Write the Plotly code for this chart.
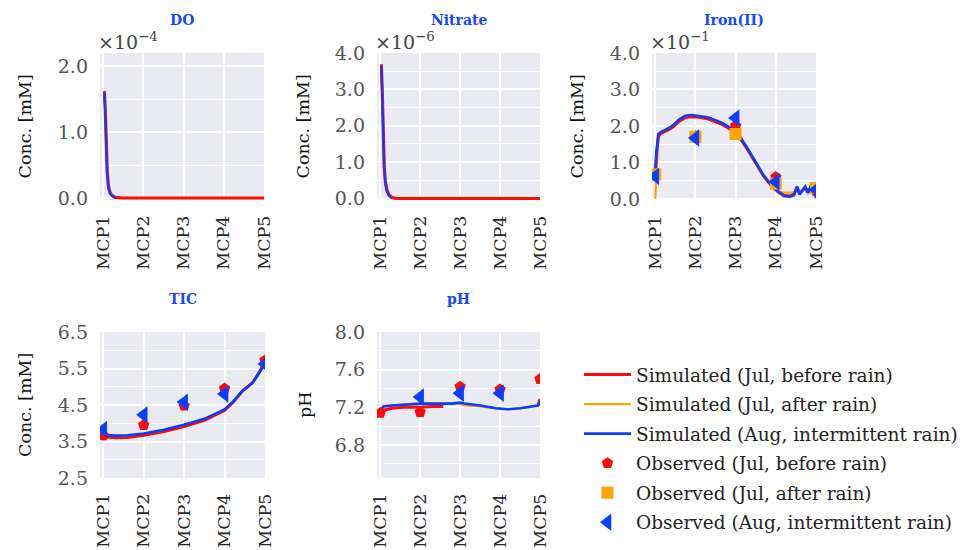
import plotly.graph_objects as go

W, H = 973, 550

# ---- data ---------------------------------------------------------------
stations = ["MCP1", "MCP2", "MCP3", "MCP4", "MCP5"]
station_pos = [0, 1, 2, 3, 4]

# DO, in units of 1e-4 mM
do_u = [0, 0.03, 0.05, 0.075, 0.1, 0.13, 0.17, 0.22, 0.3, 0.5, 1, 2, 3, 4]
do_sim_jul_before = [1.6, 1.6, 1.35, 0.75, 0.4, 0.18, 0.08, 0.04, 0.01, 0, 0, 0, 0, 0]
do_u_aug = [0, 0.03, 0.05, 0.075, 0.1, 0.13, 0.17, 0.22, 0.3]
do_sim_aug = [1.58, 1.58, 1.3, 0.7, 0.36, 0.16, 0.07, 0.03, 0.0]

# Nitrate, in units of 1e-6 mM
no3_u = [0, 0.03, 0.05, 0.07, 0.1, 0.13, 0.17, 0.22, 0.3, 0.4, 1, 2, 3, 4]
no3_sim_jul_before = [3.65, 3.65, 3.0, 1.8, 0.9, 0.45, 0.22, 0.1, 0.03, 0, 0, 0, 0, 0]
no3_u_aug = [0, 0.03, 0.05, 0.07, 0.1, 0.13, 0.17, 0.22, 0.3]
no3_sim_aug = [3.62, 3.62, 2.9, 1.7, 0.85, 0.4, 0.2, 0.08, 0.0]

# Iron(II), in units of 1e-1 mM
fe_u = [0, 0.03, 0.08, 0.15, 0.3, 0.45, 0.6, 0.75, 0.9, 1.1, 1.3, 1.5, 1.7, 1.9,
        2.1, 2.3, 2.5, 2.7, 2.9, 3.05, 3.2, 3.35, 3.45, 3.53, 3.59, 3.66, 3.73,
        3.8, 3.87, 3.94, 4.0]
fe_sim_jul_before = [0.65, 1.2, 1.72, 1.8, 1.88, 1.98, 2.13, 2.23, 2.25, 2.24, 2.2,
                     2.12, 2.02, 1.89, 1.68, 1.35, 0.97, 0.62, 0.35, 0.2, 0.1, 0.08,
                     0.12, 0.33, 0.14, 0.22, 0.32, 0.18, 0.33, 0.28, 0.15]
fe_sim_jul_after = [0.0, 0.8, 1.7, 1.82, 1.9, 2.0, 2.15, 2.26, 2.28, 2.27, 2.22,
                    2.14, 2.04, 1.91, 1.7, 1.36, 0.98, 0.63, 0.36, 0.22, 0.17, 0.16,
                    0.17, 0.3, 0.2, 0.22, 0.3, 0.22, 0.3, 0.28, 0.25]
fe_sim_aug = [0.62, 1.3, 1.78, 1.84, 1.92, 2.02, 2.18, 2.28, 2.3, 2.28, 2.24, 2.16,
              2.06, 1.93, 1.72, 1.38, 1.0, 0.64, 0.36, 0.2, 0.08, 0.06, 0.1, 0.34,
              0.12, 0.22, 0.33, 0.16, 0.34, 0.3, 0.02]
fe_obs_jul_before = [0.65, 1.72, 2.0, 0.6, 0.22]
fe_obs_jul_after = [0.67, 1.7, 1.78, 0.42, 0.3]
fe_obs_aug = [0.62, 1.67, 2.22, 0.47, 0.25]

# TIC, mM
tic_u = [0, 0.1, 0.3, 0.6, 1.0, 1.5, 2.0, 2.5, 3.0, 3.2, 3.45, 3.58, 3.7, 3.85, 4.0]
tic_sim_jul_before = [3.68, 3.62, 3.6, 3.61, 3.67, 3.77, 3.91, 4.08, 4.35, 4.56,
                      4.89, 5.0, 5.12, 5.38, 5.7]
tic_sim_aug = [3.77, 3.68, 3.66, 3.67, 3.72, 3.82, 3.96, 4.12, 4.38, 4.58, 4.9,
               5.0, 5.12, 5.36, 5.63]
tic_obs_jul_before = [3.67, 3.95, 4.48, 4.95, 5.72]
tic_obs_aug = [3.83, 4.23, 4.58, 4.8, 5.62]

# pH
ph_u = [0, 0.08, 0.3, 0.6, 1.0, 1.3, 1.58, 1.8, 2.0, 2.1, 2.3, 2.5, 2.9, 3.2, 3.5,
        3.8, 3.95, 4.0]
ph_sim_jul_before = [7.13, 7.17, 7.19, 7.2, 7.2, 7.21, 7.21, None, None, None, None,
                     None, None, None, None, None, 7.22, 7.29]
ph_sim_jul_after = [7.16, 7.21, 7.22, 7.23, 7.24, 7.24, 7.24, 7.24, 7.24, 7.22,
                    7.215, 7.21, 7.19, 7.18, 7.19, 7.21, 7.22, 7.27]
ph_sim_aug = [7.16, 7.21, 7.22, 7.23, 7.24, 7.24, 7.24, 7.24, 7.25, 7.24, 7.23,
              7.22, 7.19, 7.18, 7.19, 7.21, 7.22, 7.27]
ph_obs_jul_before = [7.14, 7.15, 7.42, 7.39, 7.5]
ph_obs_aug = [None, 7.31, 7.35, 7.35, None]

series_names = [
    "Simulated (Jul, before rain)",
    "Simulated (Jul, after rain)",
    "Simulated (Aug, intermittent rain)",
    "Observed (Jul, before rain)",
    "Observed (Jul, after rain)",
    "Observed (Aug, intermittent rain)",
]

# ---- style ----------------------------------------------------------------
RED, ORANGE, BLUE = "#ff0a0a", "#ffa500", "#0b3dff"
TITLE_BLUE = "#1646ff"
FONT = "DejaVu Serif"
BG = "#eaeaf2"


def px_x(p):
    return p / W


def px_y(p):
    return 1 - p / H


# subplot boxes in pixels: (left, right, top, bottom)
boxes = {
    1: (100, 264, 53, 200),
    2: (377, 540, 53, 200),
    3: (652, 816, 53, 200),
    4: (100, 265, 332, 478),
    5: (377, 540, 332, 478),
}

fig = go.Figure()


def line(idx, x, y, color, width, rank, show=False):
    fig.add_trace(go.Scatter(
        x=x, y=y, mode="lines", xaxis=f"x{idx}", yaxis=f"y{idx}",
        line=dict(color=color, width=width, shape="linear"),
        name=series_names[rank], legendgroup=f"g{rank}", legendrank=rank + 1,
        showlegend=show, connectgaps=False, hoverinfo="skip"))


def marks(idx, y, color, symbol, size, rank, show=False):
    fig.add_trace(go.Scatter(
        x=station_pos, y=y, mode="markers", xaxis=f"x{idx}", yaxis=f"y{idx}",
        marker=dict(color=color, symbol=symbol, size=size, line=dict(width=0)),
        name=series_names[rank], legendgroup=f"g{rank}", legendrank=rank + 1,
        showlegend=show, hoverinfo="skip"))


# DO
line(1, do_u, do_sim_jul_before, RED, 3.2, 0)
line(1, do_u_aug, do_sim_aug, BLUE, 2.2, 2)
# Nitrate
line(2, no3_u, no3_sim_jul_before, RED, 3.2, 0)
line(2, no3_u_aug, no3_sim_aug, BLUE, 2.2, 2)
# Iron(II) (carries the legend entries)
line(3, fe_u, fe_sim_jul_after, ORANGE, 2.2, 1, True)
line(3, fe_u, fe_sim_jul_before, RED, 3.0, 0, True)
line(3, fe_u, fe_sim_aug, BLUE, 2.6, 2, True)
marks(3, fe_obs_jul_before, RED, "pentagon", 12, 3, True)
marks(3, fe_obs_jul_after, ORANGE, "square", 12, 4, True)
marks(3, fe_obs_aug, BLUE, "triangle-left", 15, 5, True)
# TIC
line(4, tic_u, tic_sim_jul_before, RED, 3.0, 0)
line(4, tic_u, tic_sim_aug, BLUE, 2.6, 2)
marks(4, tic_obs_jul_before, RED, "pentagon", 12, 3)
marks(4, tic_obs_aug, BLUE, "triangle-left", 15, 5)
# pH
line(5, ph_u, ph_sim_jul_after, ORANGE, 2.2, 1)
line(5, ph_u, ph_sim_jul_before, RED, 3.0, 0)
line(5, ph_u, ph_sim_aug, BLUE, 2.6, 2)
marks(5, ph_obs_jul_before, RED, "pentagon", 12, 3)
marks(5, ph_obs_aug, BLUE, "triangle-left", 15, 5)

# axis settings per panel: (range, tick step, minor step, tick format, tick0)
yspec = {
    1: ([-0.03, 2.2], 1.0, 0.5, ".1f", 0.0),
    2: ([-0.04, 4.0], 1.0, 0.5, ".1f", 0.0),
    3: ([-0.03, 4.0], 1.0, 0.5, ".1f", 0.0),
    4: ([2.5, 6.5], 1.0, 0.5, ".1f", 2.5),
    5: ([6.45, 8.0], 0.4, 0.2, ".1f", 6.8),
}

layout = dict(
    width=W, height=H, margin=dict(l=0, r=0, t=0, b=0),
    paper_bgcolor="white", plot_bgcolor=BG,
    font=dict(family=FONT, color="#222"),
    showlegend=True,
    legend=dict(x=px_x(579), y=px_y(356), xanchor="left", yanchor="top",
                font=dict(family=FONT, size=18.5, color="#222"),
                bgcolor="rgba(0,0,0,0)", itemsizing="trace", itemwidth=47,
                tracegroupgap=2.5),
)

for i, (l, r, t, b) in boxes.items():
    rng, dt, mdt, fmt, t0 = yspec[i]
    layout[f"xaxis{i}"] = dict(
        domain=[px_x(l), px_x(r)], range=[-0.08, 4.0], anchor=f"y{i}",
        tickvals=station_pos, ticktext=stations, tickangle=-90,
        showgrid=True, gridcolor="white", gridwidth=1.5, zeroline=False,
        showline=False, ticks="", ticklabelstandoff=11, automargin=False,
        tickfont=dict(family=FONT, size=17.5, color="#262626"))
    layout[f"yaxis{i}"] = dict(
        domain=[px_y(b), px_y(t)], range=rng, anchor=f"x{i}",
        tick0=t0, dtick=dt, tickformat=fmt,
        showgrid=True, gridcolor="white", gridwidth=1.5, zeroline=False,
        showline=False, ticks="", ticklabelstandoff=11, automargin=False,
        tickfont=dict(family=FONT, size=19, color="#555"),
        minor=dict(tick0=t0, dtick=mdt, showgrid=True, gridcolor="white",
                   gridwidth=1.2))

fig.update_layout(**layout)

annotations = []
titles = {1: "DO", 2: "Nitrate", 3: "Iron(II)", 4: "TIC", 5: "pH"}
for i, txt in titles.items():
    l, r, t, b = boxes[i]
    annotations.append(dict(
        text=f"<b>{txt}</b>", x=px_x((l + r) / 2), y=px_y(t - 33),
        xref="paper", yref="paper", xanchor="center", yanchor="middle",
        showarrow=False, font=dict(family=FONT, size=14, color=TITLE_BLUE)))

# y axis titles
ytitles = {1: ("Conc. [mM]", 25), 2: ("Conc. [mM]", 303), 3: ("Conc. [mM]", 577),
           4: ("Conc. [mM]", 25), 5: ("pH", 305)}
for i, (txt, xc) in ytitles.items():
    l, r, t, b = boxes[i]
    annotations.append(dict(
        text=txt, x=px_x(xc), y=px_y((t + b) / 2), xref="paper", yref="paper",
        xanchor="center", yanchor="middle", textangle=-90, showarrow=False,
        font=dict(family=FONT, size=17.5, color="#111")))

# scale factors on the concentration axes
exps = {1: "−4", 2: "−6", 3: "−1"}
for i, e in exps.items():
    l, r, t, b = boxes[i]
    annotations.append(dict(
        text=f"×10<sup>{e}</sup>", x=px_x(l - 4), y=px_y(t - 12),
        xref="paper", yref="paper", xanchor="left", yanchor="middle",
        showarrow=False, font=dict(family=FONT, size=19, color="#444")))

fig.update_layout(annotations=annotations)
fig.write_html("out.html")
